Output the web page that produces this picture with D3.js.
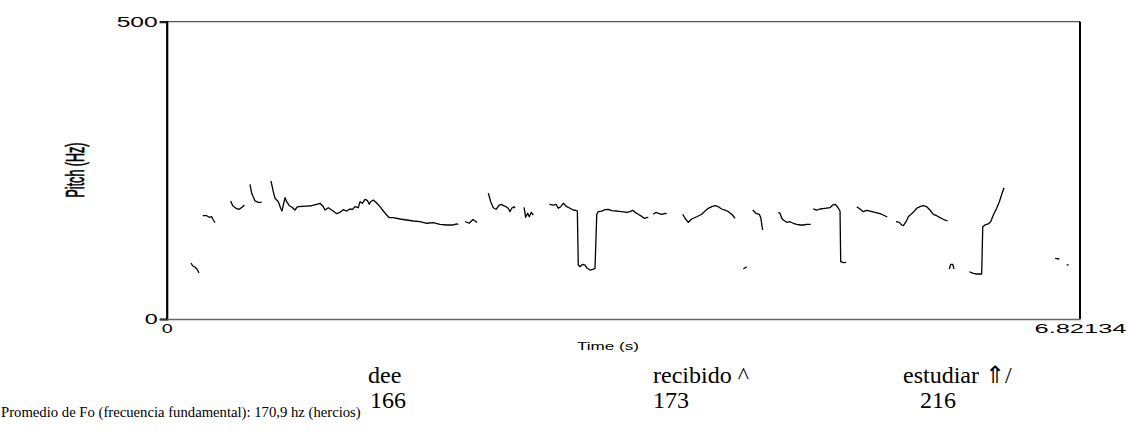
<!DOCTYPE html>
<html>
<head>
<meta charset="utf-8">
<script src="https://cdn.jsdelivr.net/npm/d3@7"></script>
<style>
  body { margin: 0; background: #fff; }
  .chart { width: 1128px; height: 440px; }
</style>
</head>
<body>
<div class="chart"></div>
<script>
// pitch track, one array per voiced stretch: [time (s), pitch (Hz)]
const seg01 = [[0.181, 94.2], [0.196, 89.1], [0.211, 87.5], [0.226, 84.1], [0.241, 77.4]];
const seg02 = [[0.269, 173.7], [0.299, 173.7], [0.318, 171.0], [0.336, 172.0], [0.348, 166.5], [0.361, 162.0]];
const seg03 = [[0.478, 198.5], [0.493, 190.5], [0.518, 186.2], [0.542, 184.5], [0.568, 188.9], [0.580, 191.7]];
const seg04 = [[0.622, 226.5], [0.635, 211.4], [0.660, 198.5], [0.684, 196.3], [0.710, 196.3]];
const seg05 = [
  [0.779, 232.1], [0.796, 214.1], [0.809, 203.0], [0.834, 197.3], [0.851, 186.2], [0.861, 181.6],
  [0.871, 191.7], [0.884, 204.0], [0.896, 197.3], [0.916, 190.5], [0.934, 188.4], [0.958, 183.3],
  [0.975, 188.4], [1.008, 189.5], [1.046, 190.0], [1.083, 190.5], [1.120, 192.9], [1.145, 194.6],
  [1.170, 188.9], [1.182, 183.3], [1.207, 187.2], [1.232, 183.3], [1.270, 177.1], [1.294, 179.4],
  [1.319, 183.8], [1.344, 181.6], [1.369, 185.0], [1.389, 184.5], [1.406, 188.9], [1.431, 187.2],
  [1.444, 197.3], [1.461, 194.6], [1.481, 201.3], [1.498, 199.6], [1.513, 192.9], [1.524, 197.3],
  [1.543, 200.1], [1.563, 196.3], [1.593, 188.9], [1.618, 181.6], [1.643, 174.9], [1.663, 170.4],
  [1.692, 170.4], [1.742, 168.2], [1.793, 166.5], [1.842, 164.8], [1.892, 163.6], [1.942, 161.0],
  [1.991, 162.0], [2.041, 159.3], [2.091, 158.1], [2.141, 158.1], [2.166, 159.8], [2.178, 159.3]
];
const seg06 = [[2.228, 164.0], [2.258, 161.0], [2.288, 167.3], [2.318, 162.3]];
const seg07 = [
  [2.402, 211.4], [2.420, 197.3], [2.439, 187.2], [2.460, 184.5], [2.484, 191.7], [2.502, 192.9],
  [2.514, 190.5], [2.534, 188.9], [2.551, 186.2], [2.564, 180.5], [2.577, 186.2], [2.594, 188.9],
  [2.601, 186.2]
];
const seg08 = [[2.669, 187.9], [2.681, 171.0], [2.696, 177.8], [2.708, 172.0], [2.723, 179.4], [2.738, 174.9]];
const seg09 = [
  [2.858, 192.9], [2.888, 191.7], [2.908, 192.9], [2.925, 186.2], [2.943, 188.9], [2.962, 194.6],
  [2.988, 188.9], [3.012, 186.2], [3.037, 183.3], [3.057, 182.8], [3.067, 181.6], [3.074, 90.8],
  [3.087, 88.0], [3.107, 92.0], [3.124, 90.8], [3.141, 85.3], [3.162, 82.4], [3.182, 83.6],
  [3.199, 85.3], [3.212, 176.1], [3.224, 180.5], [3.249, 181.6], [3.274, 183.8], [3.298, 184.5],
  [3.324, 182.1], [3.362, 181.6], [3.398, 180.5], [3.436, 179.4], [3.460, 180.5], [3.481, 182.8],
  [3.498, 179.4], [3.522, 176.1], [3.548, 172.7], [3.565, 169.4], [3.585, 170.4], [3.597, 171.0]
];
const seg10 = [[3.634, 176.1], [3.655, 179.4], [3.672, 177.8], [3.697, 176.1], [3.722, 177.8], [3.734, 177.1]];
const seg11 = [
  [3.854, 176.1], [3.871, 169.4], [3.896, 162.6], [3.921, 168.2], [3.959, 172.0], [3.996, 176.1],
  [4.021, 181.6], [4.045, 186.2], [4.071, 188.9], [4.095, 190.5], [4.120, 188.9], [4.145, 185.0],
  [4.170, 183.3], [4.195, 180.5], [4.220, 176.1], [4.245, 169.4]
];
const seg12 = [[4.307, 84.1], [4.332, 88.0]];
const seg13 = [[4.377, 183.3], [4.401, 177.8], [4.426, 176.1], [4.437, 170.4], [4.451, 149.7]];
const seg14 = [
  [4.568, 179.4], [4.581, 177.8], [4.593, 169.9], [4.605, 166.5], [4.631, 162.6], [4.655, 163.6],
  [4.680, 161.0], [4.705, 159.3], [4.730, 158.1], [4.755, 158.1], [4.780, 159.3], [4.810, 159.3]
];
const seg15 = [
  [4.829, 185.0], [4.855, 183.3], [4.879, 185.0], [4.917, 186.2], [4.954, 187.2], [4.974, 191.7],
  [4.992, 192.9], [5.009, 188.9], [5.029, 181.6], [5.034, 96.4], [5.053, 94.7], [5.074, 95.4]
];
const seg16 = [
  [5.154, 188.9], [5.178, 185.0], [5.203, 180.5], [5.228, 182.8], [5.253, 181.6], [5.290, 179.4],
  [5.328, 177.1], [5.352, 174.9], [5.382, 171.5]
];
const seg17 = [
  [5.447, 163.6], [5.472, 162.6], [5.490, 158.1], [5.502, 156.9], [5.522, 163.6], [5.539, 172.0],
  [5.559, 176.1], [5.576, 179.4], [5.602, 186.2], [5.626, 188.9], [5.651, 190.5], [5.676, 188.9],
  [5.701, 183.3], [5.726, 176.1], [5.751, 173.7], [5.776, 170.4], [5.800, 167.7], [5.833, 164.8]
];
const seg18 = [[5.845, 84.1], [5.856, 92.0], [5.871, 92.0], [5.880, 84.1]];
const seg19 = [
  [5.995, 79.5], [6.024, 76.9], [6.050, 75.7], [6.087, 75.7], [6.095, 155.2], [6.112, 158.1],
  [6.136, 159.8], [6.154, 163.6], [6.174, 174.9], [6.199, 186.2], [6.219, 197.3], [6.237, 209.7],
  [6.254, 220.8]
];
const seg20 = [[6.635, 102.1], [6.667, 100.9]];
const seg21 = [[6.722, 90.8], [6.736, 91.5]];

const pitchSegments = [seg01, seg02, seg03, seg04, seg05, seg06, seg07, seg08, seg09, seg10, seg11,
  seg12, seg13, seg14, seg15, seg16, seg17, seg18, seg19, seg20, seg21];

const timeTicks = [0, 6.82134];
const pitchTicks = [0, 500];

const words = ["dee", "recibido ^", "estudiar \u21D1/"];
const wordPitch = ["166", "173", "216"];
const noteText = "Promedio de Fo (frecuencia fundamental): 170,9 hz (hercios)";

document.addEventListener("DOMContentLoaded", drawChart);

function drawChart() {
  const w = 1128;
  const h = 440;
  const left = 166.7;
  const right = 1080;
  const top = 21.7;
  const bottom = 319;
  const sans = "'Liberation Sans', Arial, sans-serif";
  const serif = "'Liberation Serif', 'Times New Roman', serif";

  const xScale = d3.scaleLinear().domain([0, 6.82134]).range([left, right]);
  const yScale = d3.scaleLinear().domain([0, 500]).range([bottom, top]);

  const svg = d3.select(".chart").append("svg").attr("width", w).attr("height", h);

  // frame: top and bottom grey, sides black
  svg.append("line").attr("x1", left).attr("x2", right).attr("y1", top).attr("y2", top)
    .attr("stroke", "#555").attr("stroke-width", 1.3);
  svg.append("line").attr("x1", right).attr("x2", right).attr("y1", top).attr("y2", bottom)
    .attr("stroke", "#000").attr("stroke-width", 2);

  const line = d3.line().x((d) => xScale(d[0])).y((d) => yScale(d[1]));

  svg.append("g")
    .selectAll("path")
    .data(pitchSegments)
    .enter()
    .append("path")
    .attr("d", line)
    .attr("fill", "none")
    .attr("stroke", "#000")
    .attr("stroke-width", 1.3)
    .attr("stroke-linejoin", "round");

  const yAxis = d3.axisLeft(yScale).tickValues(pitchTicks).tickSize(7).tickPadding(2)
    .tickFormat(d3.format("d"));
  const gy = svg.append("g").attr("transform", "translate(" + left + ",0)").call(yAxis);
  gy.select(".domain").attr("stroke", "#000").attr("stroke-width", 2.2);
  gy.selectAll(".tick line").attr("stroke", "#333").attr("stroke-width", 1.2);
  gy.selectAll(".tick text")
    .attr("font-family", sans)
    .attr("font-size", 14)
    .attr("fill", "#000")
    .attr("lengthAdjust", "spacingAndGlyphs")
    .attr("textLength", (d) => (d === 500 ? 41 : 13));

  const xAxis = d3.axisBottom(xScale).tickValues(timeTicks).tickSize(0).tickPadding(5)
    .tickFormat((d) => (d === 0 ? "0" : "6.82134"));
  const gx = svg.append("g").attr("transform", "translate(0," + bottom + ")").call(xAxis);
  gx.select(".domain").attr("stroke", "#666").attr("stroke-width", 1.5);
  gx.selectAll(".tick text")
    .attr("font-family", sans)
    .attr("font-size", 12)
    .attr("fill", "#000")
    .attr("lengthAdjust", "spacingAndGlyphs")
    .attr("textLength", (d) => (d === 0 ? 11 : 92));

  svg.append("text")
    .attr("x", 608)
    .attr("y", 350)
    .attr("text-anchor", "middle")
    .attr("font-family", sans)
    .attr("font-size", 11)
    .attr("lengthAdjust", "spacingAndGlyphs")
    .attr("textLength", 62)
    .text("Time (s)");

  svg.append("text")
    .attr("transform", "translate(84,170) scale(1.85,1) rotate(-90)")
    .attr("text-anchor", "middle")
    .attr("font-family", sans)
    .attr("font-size", 14)
    .attr("stroke", "#000")
    .attr("stroke-width", 0.35)
    .attr("lengthAdjust", "spacingAndGlyphs")
    .attr("textLength", 55)
    .text("Pitch (Hz)");

  // notes under the chart
  const wordX = [368, 653, 903];
  const pitchX = [370, 653, 920];
  svg.selectAll(".word")
    .data(words)
    .enter()
    .append("text")
    .attr("class", "word")
    .attr("x", (d, i) => wordX[i])
    .attr("y", 383)
    .attr("font-family", serif)
    .attr("font-size", 24)
    .text((d) => d);

  svg.selectAll(".wordPitch")
    .data(wordPitch)
    .enter()
    .append("text")
    .attr("class", "wordPitch")
    .attr("x", (d, i) => pitchX[i])
    .attr("y", 408)
    .attr("font-family", serif)
    .attr("font-size", 24)
    .text((d) => d);

  svg.append("text")
    .attr("x", 1)
    .attr("y", 417)
    .attr("font-family", serif)
    .attr("font-size", 14.7)
    .text(noteText);
}
</script>
</body>
</html>
